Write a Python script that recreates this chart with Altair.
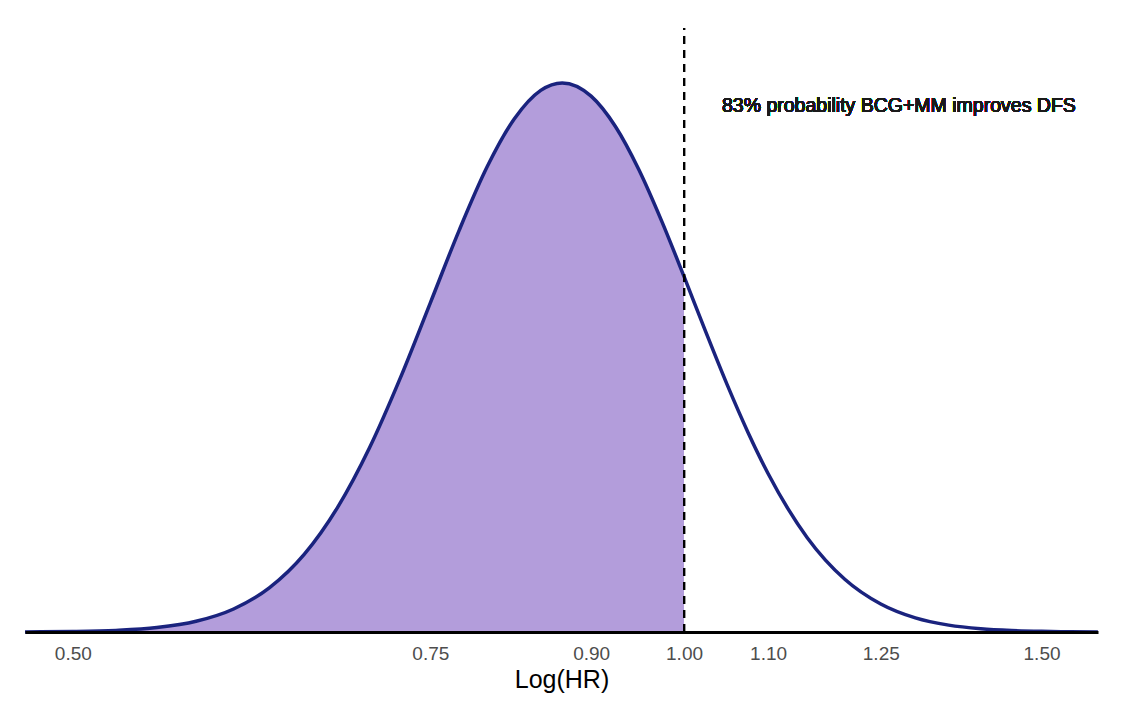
import altair as alt
import pandas as pd

# Values
hr = [0.4736, 0.50, 0.525, 0.55, 0.575, 0.60, 0.625, 0.65, 0.675, 0.70,
      0.725, 0.75, 0.775, 0.80, 0.825, 0.85, 0.871, 0.90, 0.925, 0.95,
      0.975, 1.00, 1.025, 1.05, 1.075, 1.10, 1.15, 1.20, 1.25, 1.30,
      1.35, 1.40, 1.45, 1.50, 1.55, 1.599]
density = [0.0002, 0.0009, 0.0029, 0.0080, 0.0195, 0.0419, 0.0808, 0.1413, 0.2266, 0.3356,
           0.4633, 0.5995, 0.7320, 0.8476, 0.9347, 0.9864, 1.0000, 0.9760, 0.9211, 0.8423,
           0.7483, 0.6475, 0.5465, 0.4509, 0.3644, 0.2887, 0.1718, 0.0961, 0.0510, 0.0257,
           0.0125, 0.0059, 0.0027, 0.0012, 0.0005, 0.0002]
tick_values = [0.50, 0.75, 0.90, 1.00, 1.10, 1.25, 1.50]
threshold = 1.00
annotation = "83% probability BCG+MM improves DFS"
x_title = "Log(HR)"

df = pd.DataFrame({"hr": hr, "density": density})
df_fill = df[df["hr"] <= threshold]

FONT = "Liberation Sans"
xscale = alt.Scale(type="log", domain=[0.4736, 1.5992], nice=False, zero=False)
yscale = alt.Scale(domain=[0, 1.1], nice=False, zero=True)

xaxis = alt.Axis(
    values=tick_values, format=".2f", ticks=False, grid=False,
    domainColor="black", domainWidth=3, labelFont=FONT, labelFontSize=19,
    labelColor="#4D4D4D", labelPadding=12, labelFlush=False, labelOverlap=False,
    title=x_title, titleFont=FONT, titleFontSize=25, titleFontWeight="normal",
    titleColor="black", titleBaseline="alphabetic", titleY=55, zindex=1,
)

area = alt.Chart(df_fill).mark_area(color="#B39DDB", opacity=1, interpolate="monotone").encode(
    x=alt.X("hr:Q", scale=xscale, axis=xaxis),
    y=alt.Y("density:Q", scale=yscale, axis=None),
)

line = alt.Chart(df).mark_line(color="#1A237E", strokeWidth=3.5, interpolate="monotone").encode(
    x=alt.X("hr:Q", scale=xscale),
    y=alt.Y("density:Q", scale=yscale),
)

rule = alt.Chart(df).mark_rule(color="black", strokeWidth=2, strokeDash=[8, 6]).encode(
    x=alt.datum(threshold, scale=xscale),
    y=alt.datum(0),
    y2=alt.datum(1.1),
)

text = alt.Chart(df).mark_text(
    align="left", baseline="alphabetic", font=FONT, fontSize=19.5, color="#1A1A1A"
).encode(
    x=alt.datum(1.044),
    y=alt.datum(0.947),
    text=alt.value(annotation),
)

chart = alt.layer(area, line, rule, text).properties(
    width=1073, height=604,
    autosize=alt.AutoSizeParams(type="none"),
    padding={"left": 17, "top": 20, "right": 10, "bottom": 76},
    background="white",
).configure_view(stroke=None)

chart.save("out.html", embed_options={"renderer": "svg", "actions": False})
